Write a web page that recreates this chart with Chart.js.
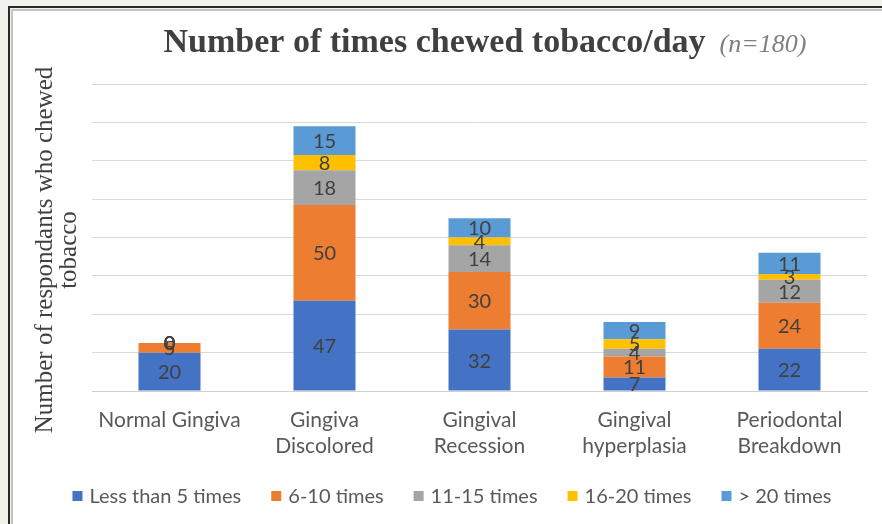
<!DOCTYPE html>
<html>
<head>
<meta charset="utf-8">
<script src="https://cdn.jsdelivr.net/npm/chart.js@4.4.1/dist/chart.umd.min.js"></script>
<style>
  html, body { margin: 0; padding: 0; background: #f2f2ec; }
  body { width: 882px; height: 524px; position: relative; overflow: hidden; }
  .frame { position: absolute; left: 8px; top: 6px; width: 900px; height: 540px;
           border-left: 2px solid #2a2a2a; border-top: 2px solid #2a2a2a; background: #f2f2ec; }
  .panel { position: absolute; left: 11px; top: 9px; width: 900px; height: 540px;
           border-left: 2px solid #c4c4c0; border-top: 2px solid #c4c4c0; background: #ffffff; }
  #wrap { position: absolute; left: 0; top: 0; width: 882px; height: 524px; }
</style>
</head>
<body>
<div class="frame"></div>
<div class="panel"></div>
<div id="wrap"><canvas id="c" width="882" height="524"></canvas></div>
<script>
// Oral condition categories (two-line labels)
const categories = [
  'Normal Gingiva',
  ['Gingiva', 'Discolored'],
  ['Gingival', 'Recession'],
  ['Gingival', 'hyperplasia'],
  ['Periodontal', 'Breakdown']
];

// Respondents per chewing-frequency group
const lessThan5 = [20, 47, 32, 7, 22];
const times6to10 = [5, 50, 30, 11, 24];
const times11to15 = [0, 18, 14, 4, 12];
const times16to20 = [0, 8, 4, 5, 3];
const moreThan20 = [0, 15, 10, 9, 11];

const seriesNames = ['Less than 5 times', '6-10 times', '11-15 times', '16-20 times', '> 20 times'];
const seriesColors = ['#4472c4', '#ed7d31', '#a5a5a5', '#ffc000', '#5b9bd5'];

const yMax = 160;
const yStep = 20;

const titleMain = 'Number of times chewed tobacco/day';
const titleNote = '(n=180)';
const yTitle = ['Number of respondants who chewed', 'tobacco'];

const sansFamily = 'Lato, "Open Sans", sans-serif';
const serifFamily = '"Liberation Serif", "DejaVu Serif", serif';

// Segment value labels, centred in each stacked piece
const valueLabels = {
  id: 'valueLabels',
  afterDatasetsDraw(chart) {
    const ctx = chart.ctx;
    ctx.save();
    ctx.font = '20px ' + sansFamily;
    ctx.fillStyle = '#404040';
    ctx.textAlign = 'center';
    ctx.textBaseline = 'middle';
    chart.data.datasets.forEach((ds, di) => {
      const meta = chart.getDatasetMeta(di);
      meta.data.forEach((bar, i) => {
        const v = ds.data[i];
        const p = bar.getProps(['x', 'y', 'base'], true);
        ctx.fillText(String(v), p.x, (p.y + p.base) / 2 + 1);
      });
    });
    ctx.restore();
  }
};

// Title, axis title and legend drawn on the canvas
const decorations = {
  id: 'decorations',
  afterDraw(chart) {
    const ctx = chart.ctx;
    ctx.save();
    // title
    ctx.textBaseline = 'alphabetic';
    ctx.textAlign = 'left';
    const fMain = 'bold 34px ' + serifFamily;
    const fNote = 'italic 26px ' + serifFamily;
    ctx.font = fMain;
    const wMain = ctx.measureText(titleMain).width;
    ctx.font = fNote;
    const wNote = ctx.measureText(titleNote).width;
    const gap = 14;
    const total = wMain + gap + wNote;
    const x0 = 485 - total / 2;
    ctx.font = fMain;
    ctx.fillStyle = '#404040';
    ctx.fillText(titleMain, x0, 52);
    ctx.font = fNote;
    ctx.fillStyle = '#7f7f7f';
    ctx.fillText(titleNote, x0 + wMain + gap, 52);

    // y axis title
    ctx.save();
    ctx.translate(56, 250);
    ctx.rotate(-Math.PI / 2);
    ctx.font = '25px ' + serifFamily;
    ctx.fillStyle = '#404040';
    ctx.textAlign = 'center';
    ctx.textBaseline = 'middle';
    ctx.fillText(yTitle[0], 0, -11);
    ctx.fillText(yTitle[1], 0, 13);
    ctx.restore();

    // legend
    ctx.font = '20px ' + sansFamily;
    ctx.textBaseline = 'middle';
    const box = 10, boxGap = 7, itemGap = 30;
    const widths = seriesNames.map(n => box + boxGap + ctx.measureText(n).width);
    const legW = widths.reduce((a, b) => a + b, 0) + itemGap * (seriesNames.length - 1);
    let lx = 452 - legW / 2;
    const ly = 496;
    seriesNames.forEach((n, i) => {
      ctx.fillStyle = seriesColors[i];
      ctx.fillRect(lx, ly - box / 2, box, box);
      ctx.fillStyle = '#595959';
      ctx.fillText(n, lx + box + boxGap, ly + 1);
      lx += widths[i] + itemGap;
    });
    ctx.restore();
  }
};

const seriesValues = [lessThan5, times6to10, times11to15, times16to20, moreThan20];

new Chart(document.getElementById('c'), {
  type: 'bar',
  data: {
    labels: categories,
    datasets: seriesNames.map((name, i) => ({
      label: name,
      data: seriesValues[i],
      backgroundColor: seriesColors[i],
      borderWidth: 0,
      categoryPercentage: 1.0,
      barPercentage: 0.4
    }))
  },
  options: {
    responsive: false,
    animation: false,
    layout: { padding: { left: 92, right: 15, top: 84, bottom: 0 } },
    plugins: {
      legend: { display: false },
      title: { display: false },
      tooltip: { enabled: false }
    },
    scales: {
      x: {
        stacked: true,
        grid: { display: false, drawTicks: false },
        border: { display: true, color: '#d0d0d0', width: 1 },
        ticks: {
          color: '#595959',
          font: { family: sansFamily, size: 21, lineHeight: 1.25 },
          padding: 16,
          maxRotation: 0,
          autoSkip: false
        },
        afterFit(scale) { scale.height = 133; }
      },
      y: {
        stacked: true,
        min: 0,
        max: yMax,
        ticks: { display: false, stepSize: yStep },
        grid: { color: '#d9d9d9', drawTicks: false },
        border: { display: false },
        afterFit(scale) { scale.width = 0; }
      }
    }
  },
  plugins: [valueLabels, decorations]
});
</script>
</body>
</html>
